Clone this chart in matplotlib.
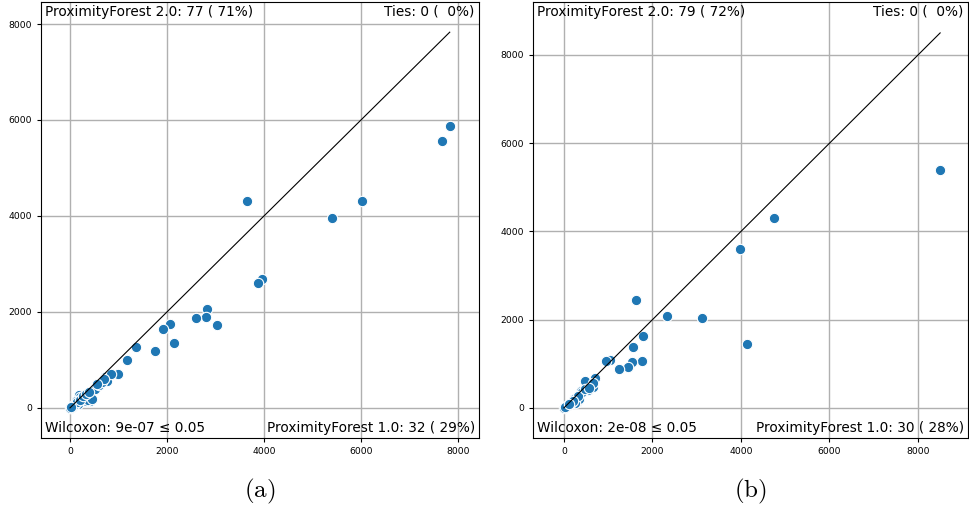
import matplotlib
matplotlib.use("Agg")
import matplotlib.pyplot as plt
import numpy as np

plt.rcParams['mathtext.fontset'] = 'cm'

# panel (a): ProximityForest 1.0 (x) vs ProximityForest 2.0 (y)
a_x = [7830, 7680, 6030, 5400, 3650, 3950, 3880, 2830, 2810, 2600, 3040, 2070,
       1920, 2140, 1750, 1360, 1180, 980, 770, 730, 700, 760, 520, 420, 360,
       330, 290, 190, 210, 120, 120, 20, 60, 250, 300, 380, 450, 160, 80, 40,
       10, 100, 150, 200, 260, 320, 400, 600, 650, 850, 700, 560, 30]
a_y = [5870, 5570, 4320, 3960, 4310, 2680, 2600, 2070, 1890, 1880, 1720, 1750,
       1650, 1350, 1180, 1265, 995, 708, 600, 640, 560, 570, 390, 150, 290,
       150, 180, 270, 230, 150, 110, 0, 40, 200, 220, 160, 180, 90, 60, 20,
       5, 80, 120, 170, 240, 280, 330, 480, 540, 700, 610, 500, 25]

# panel (b)
b_x = [8500, 4750, 3980, 4140, 3130, 1630, 2330, 1790, 1570, 1770, 1540, 1450,
       1240, 1030, 700, 467, 542, 377, 663, 226, 286, 60, 0, 300, 350, 400,
       250, 320, 150, 100, 200, 660, 480, 560, 30, 120, 950]
b_y = [5400, 4310, 3610, 1450, 2035, 2440, 2080, 1625, 1375, 1066, 1030, 937,
       877, 1088, 680, 605, 408, 393, 484, 197, 143, 45, 0, 150, 200, 350,
       120, 280, 100, 60, 160, 560, 420, 450, 20, 80, 1073]

panels = [
    dict(x=a_x, y=a_y, top_left="ProximityForest 2.0: 77 ( 71%)",
         top_right="Ties: 0 (  0%)", bot_left="Wilcoxon: 9e-07 \u2264 0.05",
         bot_right="ProximityForest 1.0: 32 ( 29%)", caption="(a)",
         xlim=(-598, 8433), ylim=(-625, 8458)),
    dict(x=b_x, y=b_y, top_left="ProximityForest 2.0: 79 ( 72%)",
         top_right="Ties: 0 (  0%)", bot_left="Wilcoxon: 2e-08 \u2264 0.05",
         bot_right="ProximityForest 1.0: 30 ( 28%)", caption="(b)",
         xlim=(-700, 9130), ylim=(-680, 9200)),
]

fig = plt.figure(figsize=(9.69, 5.08), dpi=100)
rects = [[0.0423, 0.138, 0.452, 0.858], [0.550, 0.138, 0.449, 0.858]]
ticks = [0, 2000, 4000, 6000, 8000]

for p, r in zip(panels, rects):
    ax = fig.add_axes(r)
    x = np.array(p['x'])
    y = np.array(p['y'])
    ax.grid(True, color='#b0b0b0', linewidth=1.0, zorder=0)
    ax.set_axisbelow(True)
    ax.scatter(x, y, s=56, color='#1f77b4', edgecolor='white', linewidth=0.8, zorder=3)
    m = max(x.max(), y.max())
    ax.plot([0, m], [0, m], color='black', linewidth=0.8, zorder=4)
    ax.set_xlim(*p['xlim'])
    ax.set_ylim(*p['ylim'])
    ax.set_xticks(ticks)
    ax.set_yticks(ticks)
    ax.tick_params(labelsize=6.7, length=3)
    kw = dict(xycoords='axes fraction', textcoords='offset points', fontsize=9.8, zorder=5)
    ax.annotate(p['top_left'], xy=(0, 1), xytext=(3, -2), ha='left', va='top', **kw)
    ax.annotate(p['top_right'], xy=(1, 1), xytext=(-3, -2), ha='right', va='top', **kw)
    ax.annotate(p['bot_left'], xy=(0, 0), xytext=(3, 2), ha='left', va='bottom', **kw)
    ax.annotate(p['bot_right'], xy=(1, 0), xytext=(-3, 2), ha='right', va='bottom', **kw)
    cx = r[0] + r[2] / 2
    fig.text(cx, 0.032, '$\\mathrm{' + p['caption'] + '}$', ha='center', va='center', fontsize=18)

fig.savefig('out.png', dpi=100)
